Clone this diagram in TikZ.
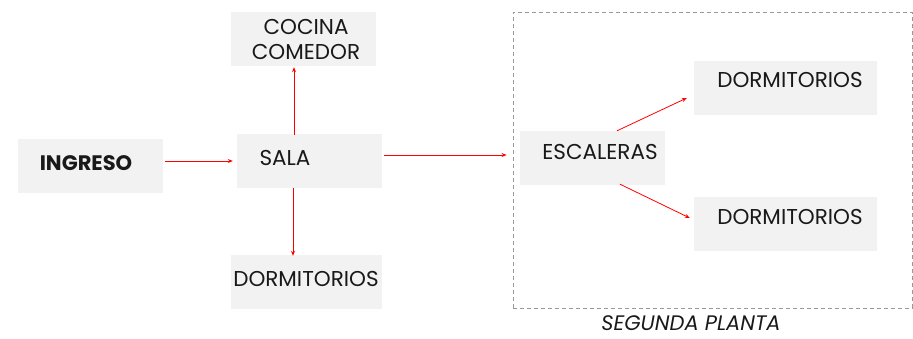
\documentclass[tikz,border=0pt]{standalone}
\usepackage{fontspec}
\setmainfont{Poppins}
\usetikzlibrary{calc,arrows.meta}
\definecolor{boxfill}{HTML}{F2F2F2}
\definecolor{arrred}{HTML}{FF0000}
\definecolor{frameg}{HTML}{999999}
\tikzset{
  box/.style={fill=boxfill, draw=none, inner sep=0pt},
  lbl/.style={inner sep=0pt, font=\fontsize{21.5}{25}\selectfont, text=black!90},
  arr/.style={draw=arrred, line width=0.8pt, -{Stealth[length=5pt,width=4pt]}},
  frame/.style={draw=frameg, dashed, dash pattern=on 4pt off 3pt, line width=0.9pt, inner sep=0pt}
}
\begin{document}
\begin{tikzpicture}[x=1pt,y=-1pt]
\useasboundingbox (0,0) rectangle (913,338);
% boxes
\node[box, minimum width=145pt, minimum height=54pt] (ingreso) at (90.5,166) {};
\node[box, minimum width=145pt, minimum height=54pt] (sala) at (309.5,161) {};
\node[box, minimum width=145pt, minimum height=54pt] (cocina) at (303.5,39) {};
\node[box, minimum width=151pt, minimum height=54pt] (dorm1) at (306.5,282) {};
\node[frame, minimum width=399pt, minimum height=296pt] (planta) at (712.5,160) {};
\node[box, minimum width=145pt, minimum height=54pt] (escaleras) at (592.5,158) {};
\node[box, minimum width=183pt, minimum height=54pt] (dorm2) at (785.5,88) {};
\node[box, minimum width=183pt, minimum height=54pt] (dorm3) at (785.5,224) {};
% texts
\node[lbl, font=\fontsize{21}{25}\selectfont\bfseries] (tingreso) at (86,163) {INGRESO};
\node[lbl] (tsala) at (285,158) {SALA};
\node[lbl, align=center] (tcocina) at (306,39.5) {COCINA\\COMEDOR};
\node[lbl] (tdorm1) at (306,279) {DORMITORIOS};
\node[lbl] (tesc) at (600,152) {ESCALERAS};
\node[lbl] (tdorm2) at (790,80) {DORMITORIOS};
\node[lbl] (tdorm3) at (790,217) {DORMITORIOS};
\node[lbl, font=\fontsize{21}{25}\selectfont\itshape] (tplanta) at (691,323.5) {SEGUNDA PLANTA};
% arrows
\draw[arr] ($(ingreso.east)+(2,-5)$) -- ($(sala.west)+(-4,0)$);
\draw[arr] ($(sala.north)+(-15.5,1)$) -- ($(cocina.south)+(-9.5,1)$);
\draw[arr] ($(sala.south)+(-16.5,0)$) -- ($(dorm1.north)+(-13.5,1)$);
\draw[arr] ($(sala.east)+(2,-6)$) -- ($(planta.west)+(-6,-5)$);
\draw[arr] ($(escaleras.north)+(24.5,0)$) -- ($(dorm2.west)+(-7,10)$);
\draw[arr] ($(escaleras.south)+(27.5,-1)$) -- ($(dorm3.west)+(-4,-6)$);
\end{tikzpicture}
\end{document}
